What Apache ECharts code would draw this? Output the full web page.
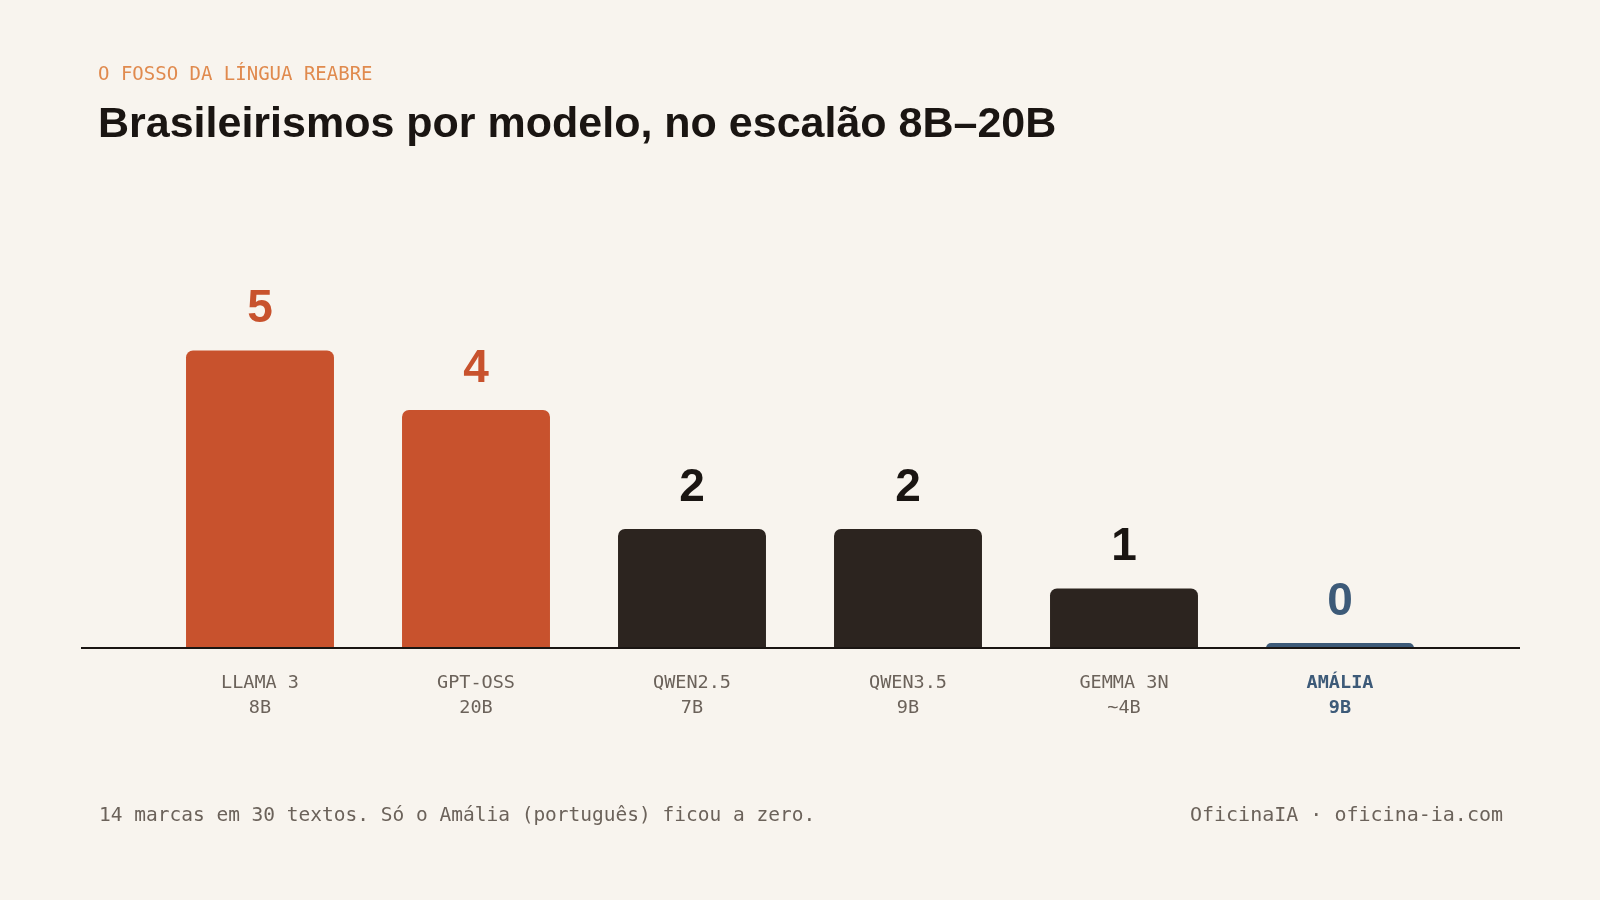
<!DOCTYPE html>
<html>
<head>
<meta charset="utf-8">
<script src="https://cdn.jsdelivr.net/npm/echarts@6/dist/echarts.min.js"></script>
<style>
  html, body { margin: 0; padding: 0; background: #F8F4EE; }
  #chart { width: 1600px; height: 900px; }
</style>
</head>
<body>
<div id="chart"></div>
<script>
// ---- data ----
const models = ['LLAMA 3', 'GPT-OSS', 'QWEN2.5', 'QWEN3.5', 'GEMMA 3N', 'AMÁLIA'];
const sizes = ['8B', '20B', '7B', '9B', '~4B', '9B'];
const brasileirismos = [5, 4, 2, 2, 1, 0];
const highlightModel = 'AMÁLIA';

const eyebrow = 'O FOSSO DA LÍNGUA REABRE';
const titleText = 'Brasileirismos por modelo, no escalão 8B–20B';
const footLeft = '14 marcas em 30 textos. Só o Amália (português) ficou a zero.';
const footRight = 'OficinaIA · oficina-ia.com';

// ---- style ----
const BG = '#F8F4EE';
const ORANGE = '#C8522D';
const DARK = '#2C241F';
const INK = '#1A1512';
const BLUE = '#3D5A78';
const GRAY = '#6B625A';
const SANS = '"Liberation Sans", Arial, sans-serif';
const MONO = '"DejaVu Sans Mono", "Liberation Mono", monospace';

function barColor(name, v) {
  if (name === highlightModel) return BLUE;
  return v >= 4 ? ORANGE : DARK;
}
function labelColor(name, v) {
  if (name === highlightModel) return BLUE;
  return v >= 4 ? ORANGE : INK;
}

const chart = echarts.init(document.getElementById('chart'), null, { renderer: 'canvas' });

const AXIS_Y = 648;

chart.setOption({
  backgroundColor: BG,
  animation: false,
  title: [
    {
      text: eyebrow,
      left: 93, top: 61,
      textStyle: { fontFamily: MONO, fontSize: 19, fontWeight: 'normal', color: '#E08A4E' }
    },
    {
      text: titleText,
      left: 93, top: 99,
      textStyle: { fontFamily: SANS, fontSize: 43, fontWeight: 'bold', color: INK }
    },
    {
      text: footLeft,
      left: 94, top: 801,
      textStyle: { fontFamily: MONO, fontSize: 19.5, fontWeight: 'normal', color: GRAY }
    },
    {
      text: footRight,
      right: 92, top: 801,
      textStyle: { fontFamily: MONO, fontSize: 20, fontWeight: 'normal', color: GRAY }
    }
  ],
  grid: { left: 152, right: 152, top: 291, bottom: 900 - AXIS_Y },
  xAxis: {
    type: 'category',
    data: models,
    axisLine: { show: false },
    axisTick: { show: false },
    axisLabel: {
      margin: 23,
      interval: 0,
      formatter: function (value, idx) {
        const key = value === highlightModel ? 'hl' : 'n';
        return '{' + key + '|' + value + '}\n{' + key + '|' + sizes[idx] + '}';
      },
      rich: {
        n: { fontFamily: MONO, fontSize: 18.5, color: GRAY, lineHeight: 24.5, align: 'center' },
        hl: { fontFamily: MONO, fontSize: 18.5, fontWeight: 'bold', color: BLUE, lineHeight: 24.5, align: 'center' }
      }
    }
  },
  yAxis: {
    type: 'value',
    min: 0, max: 6,
    show: false,
    splitLine: { show: false }
  },
  series: [{
    type: 'bar',
    barWidth: '68.5%',
    barMinHeight: 5,
    data: brasileirismos.map((v, i) => ({
      value: v,
      itemStyle: { color: barColor(models[i], v), borderRadius: [7, 7, 0, 0] },
      label: { color: labelColor(models[i], v) }
    })),
    label: {
      show: true,
      position: 'top',
      distance: 18,
      fontFamily: SANS,
      fontSize: 46,
      fontWeight: 'bold'
    }
  }],
  graphic: [{
    type: 'line',
    z: 100,
    shape: { x1: 81, y1: AXIS_Y, x2: 1520, y2: AXIS_Y },
    style: { stroke: INK, lineWidth: 2 }
  }]
});
</script>
</body>
</html>
